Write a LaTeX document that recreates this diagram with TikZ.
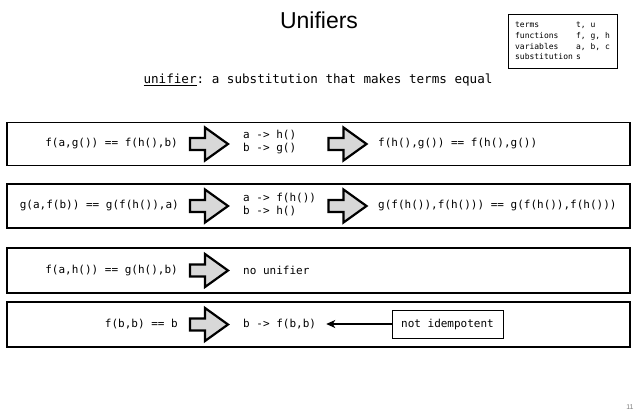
\documentclass[tikz,border=0pt]{standalone}
\usepackage{fontspec}
\setmainfont{Liberation Sans}
\setmonofont{DejaVu Sans Mono}
\usetikzlibrary{arrows.meta}
\definecolor{arrowgray}{HTML}{D8D8D8}
\tikzset{
  rowbox/.style={draw, line width=1.2pt, minimum width=623pt, minimum height=44pt, inner sep=0pt},
  code/.style={font=\fontsize{11}{13}\selectfont\ttfamily, inner sep=0pt, align=left},
  barrow/.pic={\draw[line width=2.2pt, fill=arrowgray, line join=miter]
    (-19,-6) -- (-4,-6) -- (-4,-16.5) -- (19,0) -- (-4,16.5) -- (-4,6) -- (-19,6) -- cycle;}
}
\begin{document}
\begin{tikzpicture}[x=1pt,y=-1pt]
\useasboundingbox (0,0) rectangle (638,415);
% title
\node[font=\fontsize{23}{26}\selectfont, inner sep=0pt] (title) at (319,20) {Unifiers};
% legend
\node[draw, line width=1pt, minimum width=109pt, minimum height=54pt, inner xsep=7pt,
      align=left, font=\fontsize{8}{10.7}\selectfont\ttfamily] (legend) at (562.5,41)
  {\makebox[61pt][l]{terms}t, u\\
   \makebox[61pt][l]{functions}f, g, h\\
   \makebox[61pt][l]{variables}a, b, c\\
   \makebox[61pt][l]{substitution}s};
% subtitle
\node[font=\fontsize{12.6}{15}\selectfont\ttfamily, inner sep=0pt] (sub) at (318,80)
  {\underline{unifier}: a substitution that makes terms equal};
% rows
\node[rowbox, minimum height=43pt] (r1) at (318.5,144) {};
\node[rowbox] (r2) at (318.5,206) {};
\node[rowbox, minimum height=45pt] (r3) at (318.5,270.5) {};
\node[rowbox, minimum height=45pt] (r4) at (318.5,324.5) {};
% row 1
\node[code, anchor=east] (e1) at (178,144) {f(a,g()) == f(h(),b)};
\pic at (209,144) {barrow};
\node[code, anchor=west] (s1) at (243,142) {a -> h()\\b -> g()};
\pic at (347.5,144) {barrow};
\node[code, anchor=west] (u1) at (378,144) {f(h(),g()) == f(h(),g())};
% row 2
\node[code, anchor=east] (e2) at (179,206) {g(a,f(b)) == g(f(h()),a)};
\pic at (209,206) {barrow};
\node[code, anchor=west] (s2) at (243,205) {a -> f(h())\\b -> h()};
\pic at (347.5,206) {barrow};
\node[code, anchor=west] (u2) at (378,206) {g(f(h()),f(h())) == g(f(h()),f(h()))};
% row 3
\node[code, anchor=east] (e3) at (178,270.5) {f(a,h()) == g(h(),b)};
\pic at (209,270.5) {barrow};
\node[code, anchor=west] (s3) at (243,270.5) {no unifier};
% row 4
\node[code, anchor=east] (e4) at (178,324.5) {f(b,b) == b};
\pic at (209,324.5) {barrow};
\node[code, anchor=west] (s4) at (243,324.5) {b -> f(b,b)};
\node[code, draw, line width=1pt, minimum width=111pt, minimum height=28pt, inner sep=0pt] (ni) at (447.5,324) {not idempotent};
\draw[line width=1.2pt, -{Stealth[length=9pt,width=8pt,inset=2.5pt]}] (ni.west) -- ([xshift=10pt]s4.east |- ni.west);
% page number
\node[font=\fontsize{7}{8}\selectfont, text=gray, inner sep=0pt] (pg) at (630,407) {11};
\end{tikzpicture}
\end{document}
